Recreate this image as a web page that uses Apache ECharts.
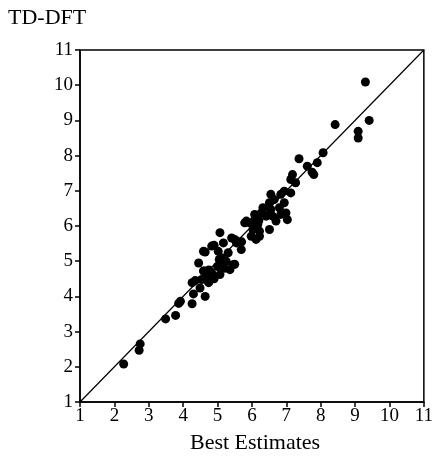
<!DOCTYPE html>
<html><head><meta charset="utf-8">
<script src="https://cdn.jsdelivr.net/npm/echarts@6/dist/echarts.min.js"></script>
<style>html,body{margin:0;padding:0;background:#fff}#c{width:436px;height:459px}</style>
</head><body><div id="c"></div>
<script>
const bestEstimates = [2.27,2.75,2.72,3.49,3.78,3.87,3.92,4.26,4.3,4.26,4.64,4.49,4.54,4.74,4.35,4.45,4.59,4.64,4.83,4.7,4.9,5.07,4.59,4.64,4.83,4.9,5.02,5.07,5.12,5.17,5.0,5.05,5.17,5.31,5.36,5.45,5.5,5.41,5.55,5.5,5.69,5.6,5.79,5.84,5.93,5.98,6.03,6.08,6.08,6.12,6.17,6.22,6.22,6.08,6.27,6.32,6.41,6.51,6.55,6.55,6.6,6.65,6.7,6.51,6.84,6.8,6.84,6.94,6.94,6.99,7.03,7.13,7.13,7.18,7.27,7.37,7.61,7.75,7.8,7.9,8.07,8.42,9.09,9.09,9.3,9.41,5.25,4.75,5.2,5.7,6.2];
const tddft = [2.08,2.65,2.47,3.36,3.46,3.8,3.86,3.79,4.07,4.39,4.0,4.24,4.48,4.39,4.45,4.95,4.72,4.72,4.67,4.55,4.5,4.62,5.28,5.26,5.43,5.45,5.28,5.81,5.1,4.95,4.85,5.05,5.52,5.24,4.76,4.9,4.91,5.66,5.52,5.62,5.33,5.55,6.09,6.14,6.09,5.71,5.9,5.95,6.18,5.62,6.04,5.85,5.71,6.33,6.37,6.52,6.28,6.66,6.47,6.9,6.28,6.75,6.14,5.9,6.33,6.52,6.9,6.66,6.99,6.37,6.18,6.94,7.32,7.46,7.23,7.91,7.7,7.53,7.46,7.8,8.08,8.88,8.69,8.5,10.09,9.0,5.0,4.75,4.8,5.55,6.15];
const axisTicks = [1,2,3,4,5,6,7,8,9,10,11];
const diagonal = [[1,1],[11,11]];

const points = bestEstimates.map((x,i)=>[x, tddft[i]]);
const font = '"Liberation Serif","Times New Roman",serif';
const chart = echarts.init(document.getElementById('c'), null, {renderer:'canvas'});
const axisCommon = {
  type:'value', min:axisTicks[0], max:axisTicks[axisTicks.length-1], interval:1,
  axisLine:{show:true, onZero:false, lineStyle:{color:'#000', width:1.5}},
  axisTick:{show:true, inside:false, length:5, lineStyle:{color:'#000', width:1.5}},
  splitLine:{show:false},
  axisLabel:{color:'#000', fontFamily:font, fontSize:19}
};
chart.setOption({
  animation:false,
  backgroundColor:'#fff',
  grid:{left:80, right:8, top:50, bottom:57, show:true, borderColor:'#000', borderWidth:1.5},
  xAxis:Object.assign({}, axisCommon, {axisLabel:Object.assign({}, axisCommon.axisLabel, {margin:5})}),
  yAxis:Object.assign({}, axisCommon, {axisLabel:Object.assign({}, axisCommon.axisLabel, {margin:7})}),
  graphic:[
    {type:'text', left:8, top:7, style:{text:'TD-DFT', font:'22px '+font, fill:'#000'}},
    {type:'text', left:190, top:432, style:{text:'Best Estimates', font:'22px '+font, fill:'#000'}}
  ],
  series:[
    {type:'line', data:diagonal, symbol:'none', lineStyle:{color:'#000', width:1.2}, silent:true},
    {type:'scatter', data:points, symbol:'circle', symbolSize:9, itemStyle:{color:'#000', opacity:1}}
  ]
});
</script></body></html>
